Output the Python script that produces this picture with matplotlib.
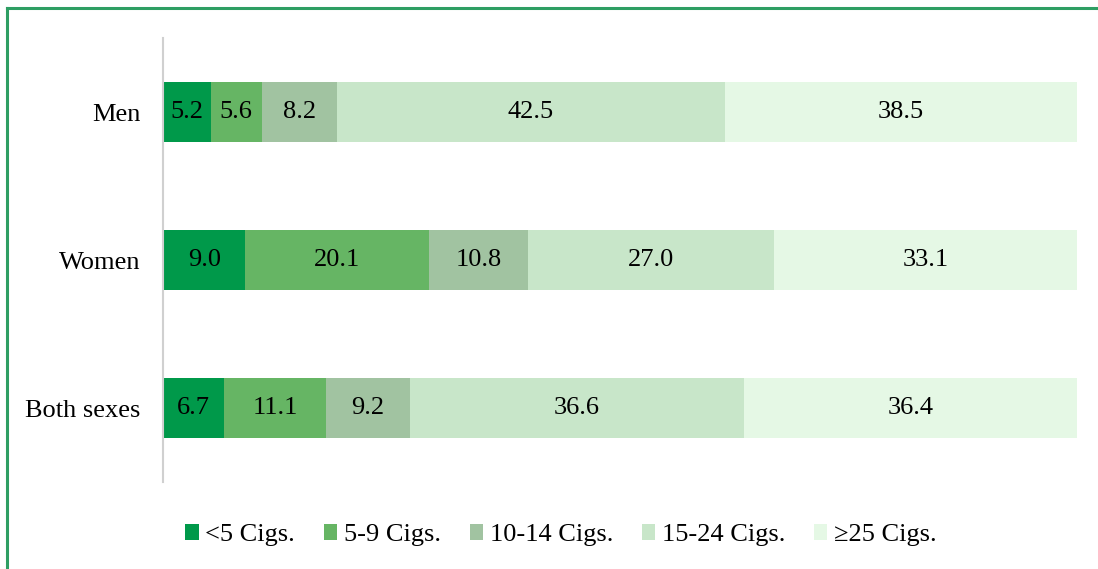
import numpy as np
import matplotlib.pyplot as plt
from matplotlib.lines import Line2D
from matplotlib.patches import Patch

# ---- Data ----
groups  = ["Men", "Women", "Both sexes"]
bins    = ["<5 Cigs.", "5-9 Cigs.", "10-14 Cigs.", "15-24 Cigs.", "\u226525 Cigs."]
values  = {
    "<5 Cigs.":        [5.2, 9.0, 6.7],
    "5-9 Cigs.":       [5.6, 20.1, 11.1],
    "10-14 Cigs.":     [8.2, 10.8, 9.2],
    "15-24 Cigs.":     [42.5, 27.0, 36.6],
    "\u226525 Cigs.":  [38.5, 33.1, 36.4],
}
colors = ["#00994A", "#66B564", "#A1C3A1", "#C8E6C9", "#E5F8E5"]

plt.rcParams.update({
    "font.family": ["Liberation Serif", "DejaVu Serif"],
    "font.size": 19,
})

fig = plt.figure(figsize=(10.98, 5.69), dpi=100)
ax = fig.add_axes([163/1098, 1 - 482/569, (1077 - 163)/1098, (482 - 38)/569])

y = np.arange(len(groups))
left = np.zeros(len(groups))
for b, c in zip(bins, colors):
    v = np.array(values[b])
    ax.barh(y, v, left=left, height=0.405, color=c, edgecolor="none")
    for yi, li, vi in zip(y, left, v):
        ax.text(li + vi / 2, yi, f"{vi:.1f}", ha="center", va="center",
                fontsize=19, color="black")
    left += v

ax.set_xlim(0, 100)
ax.set_ylim(2.5, -0.5)
ax.set_yticks(y)
ax.set_yticklabels(groups)
ax.set_xticks([])
ax.tick_params(axis="y", length=0, pad=16)
for s in ["top", "right", "bottom"]:
    ax.spines[s].set_visible(False)
ax.spines["left"].set_color("#D0D0D0")
ax.spines["left"].set_linewidth(1.5)

handles = [Patch(facecolor=c, edgecolor="none", label=b) for b, c in zip(bins, colors)]
fig.legend(handles=handles, loc="center", bbox_to_anchor=(0.511, 1 - 535/569),
           ncol=5, frameon=False, handlelength=0.5, handleheight=0.6,
           handletextpad=0.25, columnspacing=1.1, fontsize=19)

# green frame (top and left edges visible)
fig.add_artist(Line2D([7/1098, 7/1098], [0, 1 - 8/569], color="#2E9E63", lw=2.2,
                      transform=fig.transFigure))
fig.add_artist(Line2D([7/1098, 1], [1 - 8/569, 1 - 8/569], color="#2E9E63", lw=2.2,
                      transform=fig.transFigure))

plt.savefig("out.png", dpi=100)
